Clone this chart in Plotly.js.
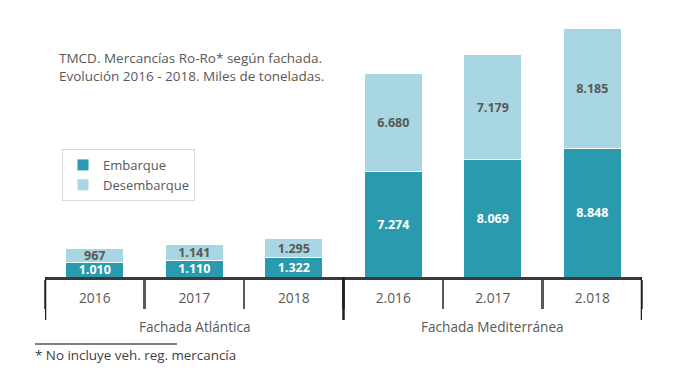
<!DOCTYPE html>
<html>
<head>
<meta charset="utf-8">
<script src="https://cdn.plot.ly/plotly-3.0.1.min.js"></script>
<style>html,body{margin:0;padding:0;background:#fff;}#chart{width:680px;height:387px;}</style>
</head>
<body>
<div id="chart"></div>
<script>
// Data
const categories = ["2016", "2017", "2018", "2.016", "2.017", "2.018"];
const groupLabels = ["Fachada Atlántica", "Fachada Mediterránea"];
const groupCenterIdx = [1, 4];
const embarque = [1010, 1110, 1322, 7274, 8069, 8848];
const desembarque = [967, 1141, 1295, 6680, 7179, 8185];
const seriesNames = ["Embarque", "Desembarque"];
const groupBoundaries = [-0.5, 2.5, 5.5];

const pos = categories.map((_, i) => i);
const fmt = v => v >= 1000 ? Math.floor(v / 1000) + "." + String(v % 1000).padStart(3, "0") : String(v);

const FONT = "Open Sans, sans-serif";
const GREY = "#595959";

const traces = [
  {
    type: "bar", name: seriesNames[0], x: pos, y: embarque,
    marker: {color: "#2a9aae", line: {color: "#ffffff", width: 1}},
    text: embarque.map(fmt), textposition: "inside", insidetextanchor: "middle",
    constraintext: "none",
    textfont: {family: FONT, size: 12.5, color: "#ffffff", weight: "bold"},
    hoverinfo: "skip"
  },
  {
    type: "bar", name: seriesNames[1], x: pos, y: desembarque,
    marker: {color: "#a8d6e2", line: {color: "#ffffff", width: 1}},
    text: desembarque.map(fmt), textposition: "inside", insidetextanchor: "middle",
    constraintext: "none",
    textfont: {family: FONT, size: 12.5, color: GREY, weight: "bold"},
    hoverinfo: "skip"
  }
];

const plotH = 387 - 28 - 110;
const annotations = [
  {
    xref: "paper", yref: "paper", x: 0.02, y: 1 - (47 - 28) / plotH,
    xanchor: "left", yanchor: "top", align: "left", showarrow: false,
    text: "TMCD. Mercancías Ro-Ro* según fachada.<br>Evolución 2016 - 2018. Miles de toneladas.",
    font: {family: FONT, size: 13.5, color: GREY}
  },
  {
    xref: "paper", yref: "paper", x: (33 - 45) / 597, y: -(355 - 277) / plotH,
    xanchor: "left", yanchor: "middle", showarrow: false,
    text: "* No incluye veh. reg. mercancía",
    font: {family: FONT, size: 13.4, color: "#404040"}
  }
];
groupLabels.forEach((g, i) => annotations.push({
  xref: "x", yref: "paper", x: groupCenterIdx[i], y: -(326 - 277) / plotH,
  xanchor: "center", yanchor: "middle", showarrow: false, text: g,
  font: {family: FONT, size: 13.6, color: GREY}
}));

const shapes = groupBoundaries.map(b => ({
  type: "line", xref: "x", yref: "paper", x0: b, x1: b, y0: 0, y1: -(320 - 277) / plotH,
  line: {color: "#1f1f1f", width: 2.5}
}));
shapes.push({
  type: "line", xref: "paper", yref: "paper",
  x0: (35 - 45) / 597, x1: (177 - 45) / 597, y0: -(344 - 277) / plotH, y1: -(344 - 277) / plotH,
  line: {color: "#000000", width: 1}
});

const layout = {
  width: 680, height: 387,
  margin: {l: 45, r: 38, t: 28, b: 110},
  paper_bgcolor: "#ffffff", plot_bgcolor: "#ffffff",
  barmode: "stack", bargap: 0.42,
  font: {family: FONT, color: GREY},
  uniformtext: {mode: "show", minsize: 12},
  showlegend: true,
  legend: {
    x: (62 - 45) / 597, y: 1 - (149 - 28) / plotH, xanchor: "left", yanchor: "top",
    traceorder: "normal", bordercolor: "#d9d9d9", borderwidth: 1, bgcolor: "#ffffff",
    font: {family: FONT, size: 13, color: GREY}, itemwidth: 30
  },
  xaxis: {
    type: "linear", range: [-0.5, 5.5],
    tickmode: "array", tickvals: pos, ticktext: categories,
    showline: true, linecolor: "#3a3a3a", linewidth: 2.5,
    ticks: "", ticklabelstandoff: 7,
    minor: {tick0: 0.5, dtick: 1, ticks: "outside", ticklen: 29, tickwidth: 2.5, tickcolor: "#595959", showgrid: false},
    tickfont: {family: FONT, size: 13.8, color: GREY},
    showgrid: false, zeroline: false, fixedrange: true
  },
  yaxis: {
    range: [0, 17100], visible: false, showgrid: false, zeroline: false, fixedrange: true
  },
  annotations: annotations,
  shapes: shapes
};

Plotly.newPlot("chart", traces, layout, {displayModeBar: false, staticPlot: true});
</script>
</body>
</html>
